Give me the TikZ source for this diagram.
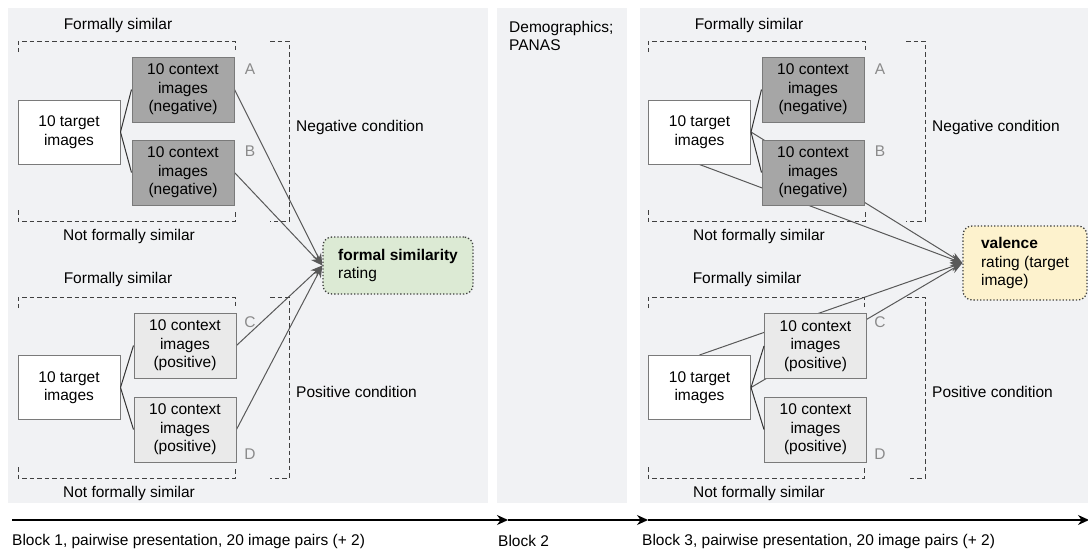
\documentclass[tikz,border=0pt]{standalone}
\usepackage{fontspec}
\setmainfont{Liberation Sans}
\usepackage{xcolor}
\usepackage{tikz}
\usetikzlibrary{arrows.meta,positioning,calc}
\definecolor{panelbg}{HTML}{F1F2F4}
\definecolor{negfill}{HTML}{A6A6A6}
\definecolor{posfill}{HTML}{EAEAEA}
\definecolor{boxline}{HTML}{7A7A7A}
\definecolor{simgreen}{HTML}{DCEAD4}
\definecolor{valyellow}{HTML}{FDF2CD}
\definecolor{lettergray}{HTML}{8A8A8A}
\pgfdeclarelayer{panels}
\pgfdeclarelayer{wires}
\pgfsetlayers{panels,wires,main}

\begin{document}
\begin{tikzpicture}[
  x=1pt, y=-1pt,
  font=\fontsize{15.5}{18.5}\selectfont,
  box/.style={draw=boxline, line width=1pt, minimum width=102pt, minimum height=65pt, inner sep=0pt, align=center},
  tgtbox/.style={box, fill=white, minimum height=64pt},
  negbox/.style={box, fill=negfill},
  posbox/.style={box, fill=posfill},
  rate/.style={draw=black!75, dotted, line width=1.3pt, rounded corners=9pt, align=left, inner ysep=0pt},
  txt/.style={inner sep=0pt},
  letter/.style={inner sep=0pt, text=lettergray},
  brk/.style={draw=black!75, line width=1pt, dash pattern=on 4.5pt off 3pt},
  wire/.style={draw=black!80, line width=1pt},
  arr/.style={draw=black!65, line width=1pt, -{Stealth[length=12pt, width=9pt]}},
  timearrow/.style={draw=black, line width=1.3pt, -{Stealth[length=11pt, width=10pt]}}]
  \useasboundingbox (0,0) rectangle (1088,552);
  \begin{pgfonlayer}{panels}
    \fill[panelbg] (8,8) rectangle (488,503);
    \fill[panelbg] (497,8) rectangle (627,503);
    \fill[panelbg] (640,8) rectangle (1088,503);
  \end{pgfonlayer}

  % block 1, negative condition
  \node[tgtbox] (t1) at (69,132) {10 target\\images};
  \node[negbox] (a1) at (183,89.5) {10 context\\images\\(negative)};
  \node[negbox] (b1) at (183,172.5) {10 context\\images\\(negative)};
  \node[letter] (la1) at (250,69) {A};
  \node[letter] (lb1) at (250,151) {B};
  \draw[brk] (18,52) -- (18,41) -- (235,41) -- (235,52);
  \draw[brk] (18,210) -- (18,221) -- (235,221) -- (235,210);
  \draw[brk] (270,41) -- (289,41) -- (289,221) -- (270,221);
  \node[txt] (sim1) at (118,25) {Formally similar};
  \node[txt] (nsim1) at (129,236) {Not formally similar};
  \node[txt, anchor=west] (cneg1) at (296,127) {Negative condition};

  % block 1, positive condition
  \node[tgtbox] (t2) at (69,387.5) {10 target\\images};
  \node[posbox] (c1) at (185,345.5) {10 context\\images\\(positive)};
  \node[posbox] (d1) at (185,429.5) {10 context\\images\\(positive)};
  \node[letter] (lc1) at (250,322) {C};
  \node[letter] (ld1) at (250,454) {D};
  \draw[brk] (18,308) -- (18,297) -- (235,297) -- (235,308);
  \draw[brk] (18,467) -- (18,478) -- (235,478) -- (235,467);
  \draw[brk] (270,297) -- (289,297) -- (289,478) -- (270,478);
  \node[txt] (sim2) at (118,279) {Formally similar};
  \node[txt] (nsim2) at (129,493) {Not formally similar};
  \node[txt, anchor=west] (cpos1) at (296,392) {Positive condition};

  \node[rate, fill=simgreen, inner xsep=15pt, minimum width=150pt, minimum height=57pt] (fs) at (398,265.5) {\textbf{formal similarity}\\rating};

  % block 2
  \node[txt, anchor=north west, align=left] (demo) at (509,21) {Demographics;\\PANAS};

  % block 3, negative condition
  \node[tgtbox] (t3) at (699.5,132) {10 target\\images};
  \node[negbox] (a3) at (813,89.5) {10 context\\images\\(negative)};
  \node[negbox] (b3) at (813,172.5) {10 context\\images\\(negative)};
  \node[letter] (la3) at (880,69) {A};
  \node[letter] (lb3) at (880,151) {B};
  \draw[brk] (648,52) -- (648,41) -- (865,41) -- (865,52);
  \draw[brk] (648,210) -- (648,221) -- (865,221) -- (865,210);
  \draw[brk] (906,41) -- (925,41) -- (925,221) -- (906,221);
  \node[txt] (sim3) at (749,25) {Formally similar};
  \node[txt] (nsim3) at (759,236) {Not formally similar};
  \node[txt, anchor=west] (cneg3) at (932,127) {Negative condition};

  % block 3, positive condition
  \node[tgtbox] (t4) at (699.5,387.5) {10 target\\images};
  \node[posbox] (c3) at (815.5,346) {10 context\\images\\(positive)};
  \node[posbox] (d3) at (815.5,429.5) {10 context\\images\\(positive)};
  \node[letter] (lc3) at (880,322) {C};
  \node[letter] (ld3) at (880,454) {D};
  \draw[brk] (648,308) -- (648,297) -- (864,297) -- (864,308);
  \draw[brk] (648,467) -- (648,478) -- (864,478) -- (864,467);
  \draw[brk] (907,297) -- (925,297) -- (925,478) -- (907,478);
  \node[txt] (sim4) at (747,279) {Formally similar};
  \node[txt] (nsim4) at (759,493) {Not formally similar};
  \node[txt, anchor=west] (cpos3) at (932,392) {Positive condition};

  \node[rate, fill=valyellow, inner xsep=18pt, minimum width=122pt, minimum height=74pt] (val) at (1025,263) {\textbf{valence}\\rating (target\\image)};

  % pairs
  \draw[wire] (t1.east) -- (a1.west);
  \draw[wire] (t1.east) -- (b1.west);
  \draw[wire] (t2.east) -- (c1.west);
  \draw[wire] (t2.east) -- (d1.west);
  \draw[wire] (t3.east) -- (a3.west);
  \draw[wire] (t3.east) -- (b3.west);
  \draw[wire] (t4.east) -- (c3.west);
  \draw[wire] (t4.east) -- (d3.west);

  % ratings
  \begin{pgfonlayer}{wires}
    \draw[arr] (a1.east) -- (fs.west);
    \draw[arr] (b1.east) -- (fs.west);
    \draw[arr] (c1.east) -- (fs.west);
    \draw[arr] (d1.east) -- (fs.west);
    \draw[arr] (t3.east) -- (val.west);
    \draw[arr] (t3.south) -- (val.west);
    \draw[arr] (t4.north) -- (val.west);
    \draw[arr] (t4.east) -- (val.west);
  \end{pgfonlayer}

  % time line
  \coordinate (s0) at (12,520);
  \coordinate (s1) at (508,520);
  \coordinate (s2) at (648,520);
  \coordinate (s3) at (1089,520);
  \draw[timearrow] (s0) -- (s1);
  \draw[timearrow] (s1) -- (s2);
  \draw[timearrow] (s2) -- (s3);
  \node[txt, anchor=west] (blk1) at (12,541) {Block 1, pairwise presentation, 20 image pairs (+ 2)};
  \node[txt, anchor=west] (blk2) at (498,541) {Block 2};
  \node[txt, anchor=west] (blk3) at (642,541) {Block 3, pairwise presentation, 20 image pairs (+ 2)};
\end{tikzpicture}
\end{document}
